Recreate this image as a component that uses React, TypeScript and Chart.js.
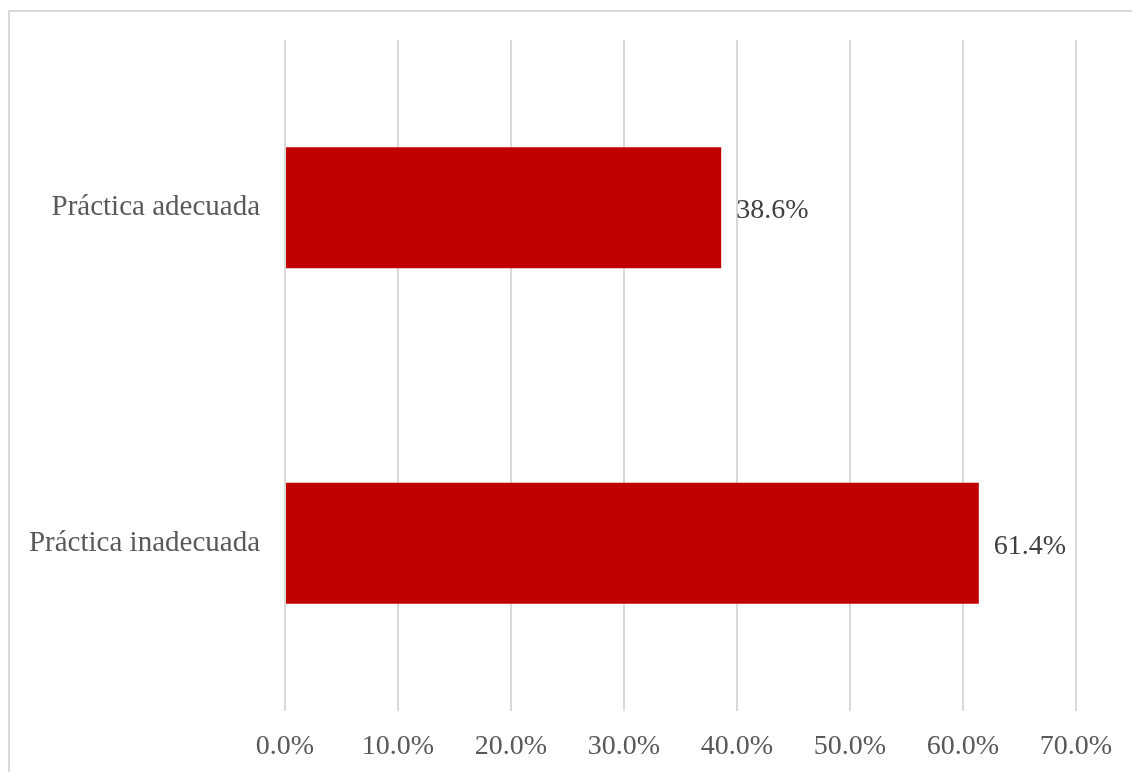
import React, { useEffect, useRef } from "react";
import { Chart, registerables } from "chart.js";

Chart.register(...registerables);

const categories: string[] = ["Práctica adecuada", "Práctica inadecuada"];
const values: number[] = [38.6, 61.4];
const axisMin = 0;
const axisMax = 70;
const axisStep = 10;

const FONT = "'Liberation Serif', 'Times New Roman', serif";

const dataLabelPlugin = {
  id: "dataLabels",
  afterDatasetsDraw(chart: any) {
    const ctx = chart.ctx;
    const meta = chart.getDatasetMeta(0);
    ctx.save();
    ctx.font = `28px ${FONT}`;
    ctx.fillStyle = "#404040";
    ctx.textAlign = "left";
    ctx.textBaseline = "middle";
    meta.data.forEach((bar: any, i: number) => {
      const v = chart.data.datasets[0].data[i] as number;
      ctx.fillText(v.toFixed(1) + "%", bar.x + 15, bar.y + 3);
    });
    ctx.restore();
  },
};

export default function App() {
  const ref = useRef<HTMLCanvasElement | null>(null);

  useEffect(() => {
    if (!ref.current) return;
    const chart = new Chart(ref.current, {
      type: "bar",
      data: {
        labels: categories,
        datasets: [
          {
            data: values,
            backgroundColor: "#c00000",
            borderWidth: 0,
            categoryPercentage: 1,
            barPercentage: 0.36,
          },
        ],
      },
      options: {
        indexAxis: "y",
        responsive: false,
        animation: false,
        devicePixelRatio: 1,
        layout: { padding: { top: 40, right: 56, left: 0, bottom: 0 } },
        plugins: {
          legend: { display: false },
          tooltip: { enabled: false },
        },
        scales: {
          x: {
            min: axisMin,
            max: axisMax,
            ticks: {
              stepSize: axisStep,
              padding: 19,
              color: "#595959",
              font: { family: FONT, size: 28 },
              callback: (v: any) => Number(v).toFixed(1) + "%",
            },
            grid: { color: "#d9d9d9", lineWidth: 2, drawTicks: false },
            border: { display: false },
            afterFit: (scale: any) => {
              scale.height = 61;
              scale.paddingLeft = 0;
              scale.paddingRight = 0;
            },
          },
          y: {
            ticks: {
              padding: 25,
              color: "#595959",
              font: { family: FONT, size: 29 },
            },
            grid: { display: false, drawTicks: false },
            border: { display: false },
            afterFit: (scale: any) => {
              scale.width = 285;
              scale.paddingTop = 0;
              scale.paddingBottom = 0;
            },
          },
        },
      },
      plugins: [dataLabelPlugin],
    });
    return () => chart.destroy();
  }, []);

  return (
    <div
      style={{
        position: "fixed",
        left: 0,
        top: 0,
        width: 1132,
        height: 772,
        overflow: "hidden",
        background: "#ffffff",
      }}
    >
      <div
        style={{
          position: "absolute",
          left: 8,
          top: 10,
          width: 1200,
          height: 900,
          border: "2px solid #d9d9d9",
          boxSizing: "border-box",
        }}
      />
      <canvas
        ref={ref}
        width={1132}
        height={772}
        style={{ position: "absolute", left: 0, top: 0, width: 1132, height: 772 }}
      />
    </div>
  );
}
